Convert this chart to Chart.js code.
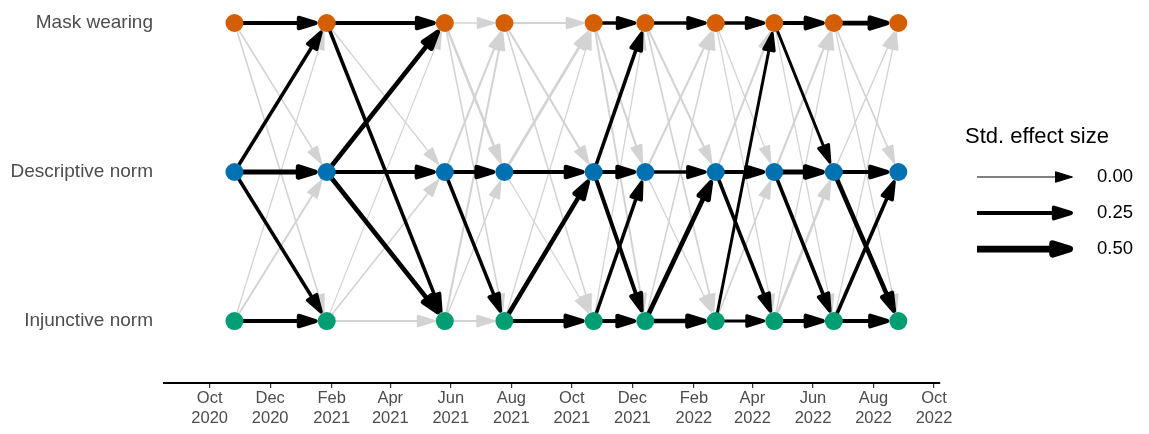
<!DOCTYPE html>
<html>
<head>
<meta charset="utf-8">
<script src="https://cdn.jsdelivr.net/npm/chart.js@4.4.1/dist/chart.umd.min.js"></script>
<style>
    body { margin: 0; background: #fff; }
    #wrap { width: 1149px; height: 434px; }
</style>
</head>
<body>
<div id="wrap"><canvas id="chart" width="1149" height="434"></canvas></div>
<script>
// Variables, top to bottom
const variables = ["Mask wearing", "Descriptive norm", "Injunctive norm"];
const pointColours = ["#D55E00", "#0072B2", "#009E73"];

// Survey waves
const waveDates = ["2020-10-26", "2021-01-27", "2021-05-26", "2021-07-25", "2021-10-23",
    "2021-12-14", "2022-02-23", "2022-04-23", "2022-06-22", "2022-08-26"];

// Axis ticks
const tickDates = ["2020-10-01", "2020-12-01", "2021-02-01", "2021-04-01", "2021-06-01", "2021-08-01",
    "2021-10-01", "2021-12-01", "2022-02-01", "2022-04-01", "2022-06-01", "2022-08-01", "2022-10-01"];
const tickLabels = [["Oct", "2020"], ["Dec", "2020"], ["Feb", "2021"], ["Apr", "2021"], ["Jun", "2021"],
    ["Aug", "2021"], ["Oct", "2021"], ["Dec", "2021"], ["Feb", "2022"], ["Apr", "2022"], ["Jun", "2022"],
    ["Aug", "2022"], ["Oct", "2022"]];

// Cross-lagged effects per interval, order: M->M, M->D, M->I, D->M, D->D, D->I, I->M, I->D, I->I
const effects = [
    [0.23, 0.04, 0.04, 0.19, 0.32, 0.19, 0.02, 0.07, 0.23],
    [0.23, 0.02, 0.19, 0.30, 0.25, 0.30, 0.01, 0.04, 0.08],
    [0.04, 0.11, 0.04, 0.08, 0.23, 0.19, 0.08, 0.03, 0.08],
    [0.07, 0.08, 0.04, 0.13, 0.23, 0.02, 0.02, 0.28, 0.25],
    [0.19, 0.08, 0.07, 0.20, 0.23, 0.23, 0.02, 0.19, 0.23],
    [0.19, 0.08, 0.05, 0.08, 0.20, 0.02, 0.04, 0.30, 0.28],
    [0.19, 0.02, 0.02, 0.08, 0.23, 0.20, 0.15, 0.05, 0.15],
    [0.25, 0.15, 0.02, 0.08, 0.32, 0.20, 0.02, 0.12, 0.25],
    [0.30, 0.05, 0.02, 0.03, 0.25, 0.28, 0.02, 0.20, 0.25]
];
const significant = [
    [1, 0, 0, 1, 1, 1, 0, 0, 1],
    [1, 0, 1, 1, 1, 1, 0, 0, 0],
    [0, 0, 0, 0, 1, 1, 0, 0, 0],
    [0, 0, 0, 0, 1, 0, 0, 1, 1],
    [1, 0, 0, 1, 1, 1, 0, 1, 1],
    [1, 0, 0, 0, 1, 0, 0, 1, 1],
    [1, 0, 0, 0, 1, 1, 1, 0, 1],
    [1, 1, 0, 0, 1, 1, 0, 0, 1],
    [1, 0, 0, 0, 1, 1, 0, 1, 1]
];

const legendValues = [0, 0.25, 0.5];

const FONT = "'Liberation Sans', Arial, sans-serif";
const POINT_R = 9;

let dayOf = s => (Date.parse(s) - Date.parse("2020-10-01")) / 86400000;
let widthOf = e => 1 + 14 * e - 5 * e * e;
let yOf = i => 2 - i;

let drawArrow = (ctx, x0, y0, x1, y1, w, colour, gap) => {
    const len = Math.hypot(x1 - x0, y1 - y0);
    const ux = (x1 - x0) / len, uy = (y1 - y0) / len;
    const px = -uy, py = ux;
    const tipX = x1 - ux * (gap + w / 2), tipY = y1 - uy * (gap + w / 2);
    const headLen = 17, headHalf = 5.3;
    const bx = tipX - ux * headLen, by = tipY - uy * headLen;

    ctx.strokeStyle = colour;
    ctx.fillStyle = colour;
    ctx.lineWidth = w;
    ctx.lineCap = "butt";
    ctx.beginPath();
    ctx.moveTo(x0, y0);
    ctx.lineTo(bx + ux * 3, by + uy * 3);
    ctx.stroke();

    ctx.lineJoin = "round";
    ctx.beginPath();
    ctx.moveTo(tipX, tipY);
    ctx.lineTo(bx + px * headHalf, by + py * headHalf);
    ctx.lineTo(bx - px * headHalf, by - py * headHalf);
    ctx.closePath();
    ctx.fill();
    ctx.stroke();
};

const arrowPlugin = {
    id: "arrows",
    beforeDatasetsDraw(chart) {
        const ctx = chart.ctx;
        const xs = chart.scales.x, ys = chart.scales.y;
        ctx.save();
        // grey ones first, black on top
        [0, 1].forEach(pass => {
            effects.forEach((row, t) => {
                row.forEach((e, k) => {
                    if (significant[t][k] !== pass) return;
                    const from = Math.floor(k / 3), to = k % 3;
                    const x0 = xs.getPixelForValue(dayOf(waveDates[t]));
                    const x1 = xs.getPixelForValue(dayOf(waveDates[t + 1]));
                    const y0 = ys.getPixelForValue(yOf(from));
                    const y1 = ys.getPixelForValue(yOf(to));
                    drawArrow(ctx, x0, y0, x1, y1, widthOf(e), pass ? "#000000" : "#D3D3D3", POINT_R);
                });
            });
        });
        ctx.restore();
    },
    afterDraw(chart) {
        const ctx = chart.ctx;
        ctx.save();
        ctx.fillStyle = "#000";
        ctx.textBaseline = "middle";
        ctx.font = "22px " + FONT;
        ctx.fillText("Std. effect size", 965, 137);
        const rows = [177, 213, 249];
        legendValues.forEach((v, i) => {
            drawArrow(ctx, 977, rows[i], 1073, rows[i], widthOf(v), "#000", 0);
            ctx.fillStyle = "#000";
            ctx.font = "18.5px " + FONT;
            ctx.fillText(v.toFixed(2), 1097, rows[i]);
        });
        ctx.restore();
    }
};

const datasets = variables.map((name, i) => ({
    label: name,
    data: waveDates.map(d => ({ x: dayOf(d), y: yOf(i) })),
    backgroundColor: pointColours[i],
    borderWidth: 0,
    pointRadius: POINT_R,
    pointHoverRadius: POINT_R
}));

new Chart(document.getElementById("chart"), {
    type: "scatter",
    data: { datasets },
    plugins: [arrowPlugin],
    options: {
        responsive: false,
        animation: false,
        events: [],
        layout: { padding: { left: 0, right: 209, top: 0, bottom: 0 } },
        plugins: { legend: { display: false }, tooltip: { enabled: false } },
        scales: {
            x: {
                type: "linear",
                min: -46,
                max: 736,
                afterBuildTicks: scale => {
                    scale.ticks = tickDates.map(d => ({ value: dayOf(d) }));
                },
                afterFit: scale => {
                    scale.height = 51;
                    scale.paddingLeft = 0;
                    scale.paddingRight = 0;
                },
                ticks: {
                    autoSkip: false,
                    maxRotation: 0,
                    padding: 0,
                    color: "#4D4D4D",
                    font: { family: FONT, size: 16.5, lineHeight: 1.25 },
                    callback: (value, index) => tickLabels[index]
                },
                grid: { drawOnChartArea: false, drawTicks: true, tickLength: 5, color: "#333333", lineWidth: 1.2 },
                border: { display: true, color: "#000000", width: 2 }
            },
            y: {
                type: "linear",
                min: -0.416,
                max: 2.094,
                afterBuildTicks: scale => {
                    scale.ticks = [0, 1, 2].map(v => ({ value: v }));
                },
                afterFit: scale => {
                    scale.width = 164;
                    scale.paddingTop = 0;
                    scale.paddingBottom = 0;
                },
                ticks: {
                    padding: 11,
                    color: "#4D4D4D",
                    font: { family: FONT, size: 19 },
                    callback: value => variables[2 - value]
                },
                grid: { display: false, drawTicks: false },
                border: { display: false }
            }
        }
    }
});
</script>
</body>
</html>
